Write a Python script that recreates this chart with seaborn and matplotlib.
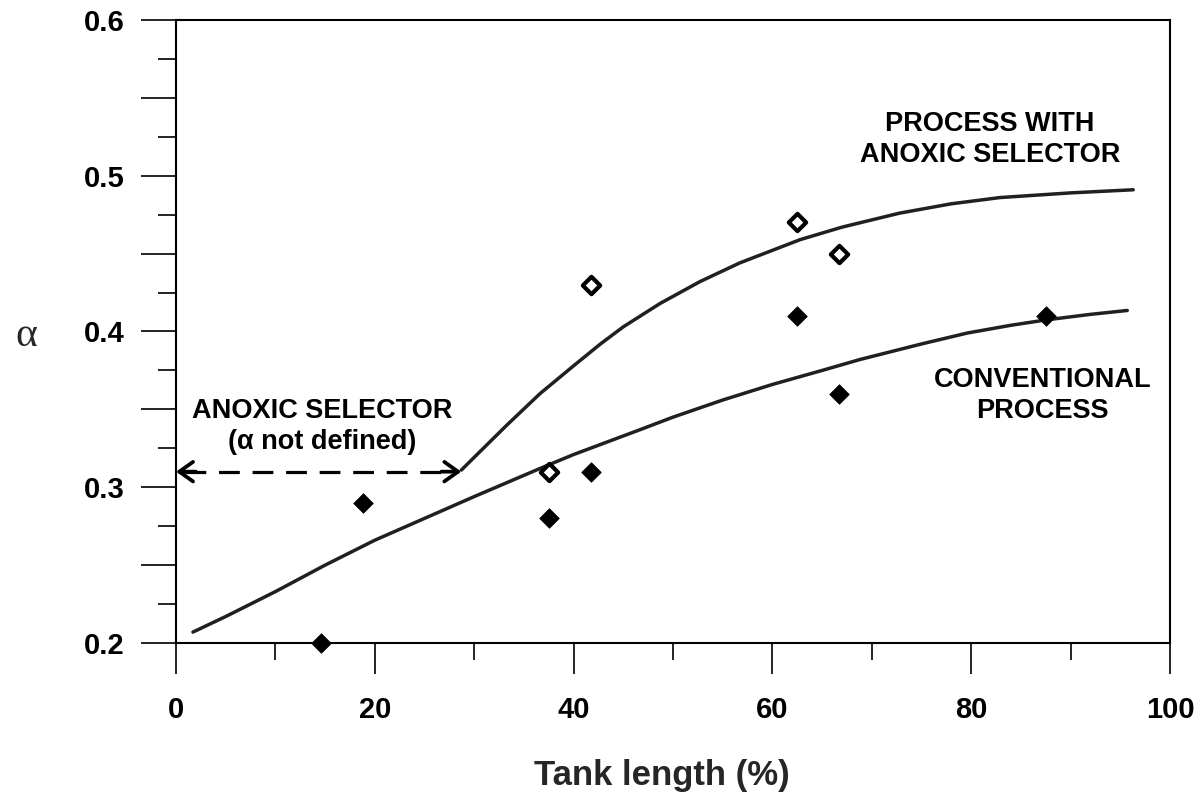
import numpy as np
import pandas as pd
import seaborn as sns
import matplotlib.pyplot as plt
from matplotlib.ticker import MultipleLocator

# ---------------- data ----------------
conv_pts_x = [14.6, 18.8, 37.5, 41.7, 62.5, 66.7, 87.5]
conv_pts_y = [0.20, 0.29, 0.28, 0.31, 0.41, 0.36, 0.41]

anox_pts_x = [37.5, 41.7, 62.5, 66.7]
anox_pts_y = [0.31, 0.43, 0.47, 0.45]

conv_curve_x = [1.7, 5, 10, 15, 20, 25, 30, 36.6, 40, 46.7, 50, 55, 60, 65,
                68.8, 75, 79.6, 84, 87.6, 92, 95.7]
conv_curve_y = [0.207, 0.217, 0.233, 0.250, 0.266, 0.280, 0.294, 0.312, 0.321,
                0.337, 0.345, 0.356, 0.366, 0.375, 0.382, 0.392, 0.399, 0.404,
                0.4075, 0.411, 0.4135]

anox_curve_x = [28.7, 30.6, 33.3, 36.6, 40, 42.7, 45, 48.7, 52.7, 56.7, 62.8,
                67, 72.8, 78, 82.9, 90, 96.3]
anox_curve_y = [0.311, 0.323, 0.340, 0.360, 0.378, 0.392, 0.403, 0.418, 0.432,
                0.444, 0.459, 0.467, 0.476, 0.482, 0.486, 0.489, 0.491]

x_ticks = [0, 20, 40, 60, 80, 100]
x_tick_labels = ["0", "20", "40", "60", "80", "100"]
y_ticks = [0.2, 0.25, 0.3, 0.35, 0.4, 0.45, 0.5, 0.55, 0.6]
y_tick_labels = ["0.2", "", "0.3", "", "0.4", "", "0.5", "", "0.6"]

arrow_y = 0.31

# ---------------- figure ----------------
sns.set_theme(style="ticks")
plt.rcParams["font.family"] = ["Liberation Sans", "DejaVu Sans"]

fig = plt.figure(figsize=(12, 7.94), dpi=100)
ax = fig.add_axes([0.1467, 0.1902, 0.8283, 0.7846])

ink = "#231f20"

conv_curve = pd.DataFrame({"x": conv_curve_x, "y": conv_curve_y})
anox_curve = pd.DataFrame({"x": anox_curve_x, "y": anox_curve_y})
sns.lineplot(data=conv_curve, x="x", y="y", ax=ax, color=ink, lw=2.5,
             sort=False, estimator=None, zorder=2)
sns.lineplot(data=anox_curve, x="x", y="y", ax=ax, color=ink, lw=2.5,
             sort=False, estimator=None, zorder=2)

conv_pts = pd.DataFrame({"x": conv_pts_x, "y": conv_pts_y})
anox_pts = pd.DataFrame({"x": anox_pts_x, "y": anox_pts_y})
sns.scatterplot(data=conv_pts, x="x", y="y", ax=ax, marker="D", s=100,
                color="black", edgecolor="black", linewidth=0.5,
                clip_on=False, zorder=4)
sns.scatterplot(data=anox_pts, x="x", y="y", ax=ax, marker="D", s=78,
                facecolor="white", edgecolor="black", linewidth=3.0,
                clip_on=False, zorder=4)

# dashed double arrow: from y axis to the start of the anoxic curve
x_end = anox_curve_x[0]
ax.plot([0.9, x_end - 0.9], [arrow_y, arrow_y], color="black", lw=2.3,
        ls=(0, (6.5, 4.0)), zorder=3, solid_capstyle="butt")
for tip, tail in [(0, 2.0), (x_end, x_end - 2.0)]:
    ax.annotate("", xy=(tip, arrow_y), xytext=(tail, arrow_y),
                arrowprops=dict(arrowstyle="->,head_length=0.45,head_width=0.32",
                                lw=2.7, color="black", shrinkA=0, shrinkB=0,
                                mutation_scale=22), zorder=3)

# annotations
txt_kw = dict(fontsize=19.5, fontweight="bold", ha="center", va="center",
              linespacing=1.25, color="black")
ax.text(81.9, 0.523, "PROCESS WITH\nANOXIC SELECTOR", **txt_kw)
ax.text(87.2, 0.359, "CONVENTIONAL\nPROCESS", **txt_kw)
ax.text(14.7, 0.339, "ANOXIC SELECTOR\n(\u03b1 not defined)", **txt_kw)

# axes
ax.set_xlim(0, 100)
ax.set_ylim(0.2, 0.6)
ax.set_xticks(x_ticks, labels=x_tick_labels, fontweight="bold", fontsize=21)
ax.set_yticks(y_ticks, labels=y_tick_labels, fontweight="bold", fontsize=21)
ax.xaxis.set_minor_locator(MultipleLocator(10))
ax.yaxis.set_minor_locator(MultipleLocator(0.025))

ax.tick_params(axis="x", which="major", length=22, width=1.2, pad=16,
               colors="black", direction="out")
ax.tick_params(axis="x", which="minor", length=12, width=1.2, direction="out",
               colors="black")
ax.tick_params(axis="y", which="major", length=25, width=1.2, pad=12,
               colors="black", direction="out")
ax.tick_params(axis="y", which="minor", length=13, width=1.2, direction="out",
               colors="black")

for sp in ax.spines.values():
    sp.set_visible(True)
    sp.set_linewidth(1.5)
    sp.set_color("black")

ax.set_xlabel("Tank length (%)", fontsize=25, fontweight="bold")
ax.xaxis.set_label_coords(0.489, -0.186)
ax.xaxis.label.set_va("top")

ax.set_ylabel("\u03b1", fontsize=30, family="Liberation Serif",
              rotation=0, ha="center", va="center")
ax.yaxis.set_label_coords(-0.151, 0.493)

ax.set_facecolor("white")
fig.patch.set_facecolor("white")

fig.savefig("out.png", dpi=100)
